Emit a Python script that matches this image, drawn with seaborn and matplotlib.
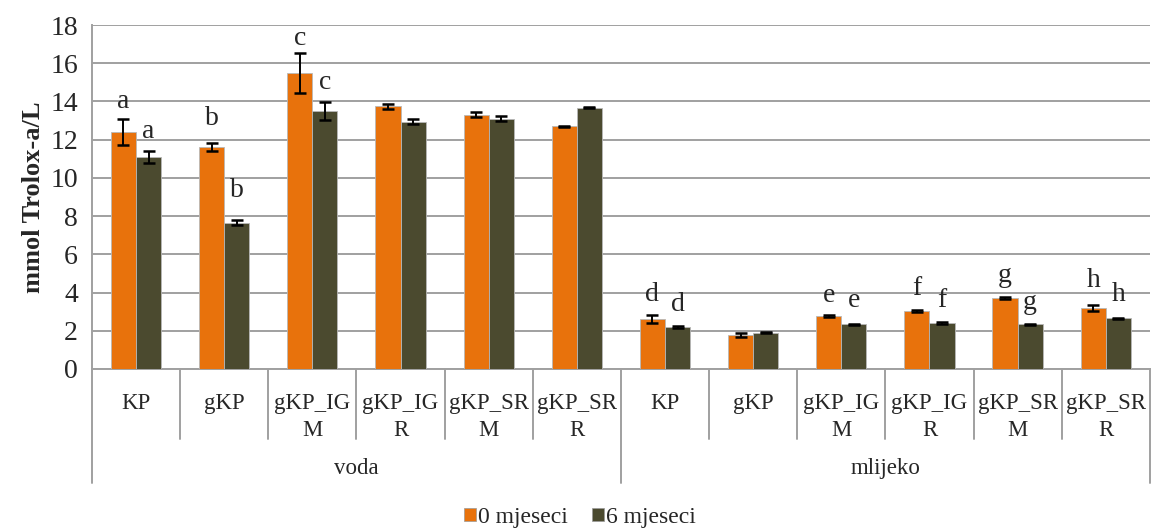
import numpy as np
import pandas as pd
import matplotlib
matplotlib.use('Agg')
import matplotlib.pyplot as plt
import seaborn as sns

groups = ['voda', 'mlijeko']
samples = ['KP', 'gKP', 'gKP_IG\nM', 'gKP_IG\nR', 'gKP_SR\nM', 'gKP_SR\nR']
times = ['0 mjeseci', '6 mjeseci']

# values, voda first then mlijeko
val_0 = [12.4, 11.6, 15.5, 13.75, 13.3, 12.7, 2.6, 1.76, 2.77, 3.04, 3.73, 3.18]
val_6 = [11.1, 7.65, 13.5, 12.95, 13.1, 13.68, 2.2, 1.9, 2.33, 2.4, 2.35, 2.65]
err_0 = [0.7, 0.2, 1.05, 0.14, 0.14, 0.04, 0.2, 0.1, 0.03, 0.04, 0.05, 0.17]
err_6 = [0.3, 0.13, 0.45, 0.12, 0.12, 0.04, 0.07, 0.03, 0.05, 0.07, 0.03, 0.03]

# significance letters and the height they sit at (None = no letter)
let_0 = ['a', 'b', 'c', None, None, None, 'd', None, 'e', 'f', 'g', 'h']
let_6 = ['a', 'b', 'c', None, None, None, 'd', None, 'e', 'f', 'g', 'h']
let_y0 = [14.0, 13.1, 17.3, 0, 0, 0, 3.9, 0, 3.85, 4.2, 4.9, 4.65]
let_y6 = [12.45, 9.35, 15.0, 0, 0, 0, 3.35, 0, 3.6, 3.6, 3.5, 3.9]

colors = ['#E8720C', '#4B4A2F']

keys = [f'{g}|{s}' for g in groups for s in samples]
df = pd.DataFrame({
    'key': keys * 2,
    'time': [times[0]] * 12 + [times[1]] * 12,
    'value': val_0 + val_6,
})

sns.set_style('white')
plt.rcParams['font.family'] = ['Liberation Serif', 'DejaVu Serif']

fig = plt.figure(figsize=(11.51, 5.32), dpi=100)
ax = fig.add_axes([0.0799, 0.3064, 0.9191, 0.6466])

sns.barplot(data=df, x='key', y='value', hue='time', order=keys, hue_order=times,
            palette=colors, width=0.57, errorbar=None, saturation=1,
            edgecolor='#b8b8b8', linewidth=0.6, ax=ax, zorder=3)

# error bars and letters on top of each bar
grid_gray = '#a0a0a0'
for i, (vals, errs, lets, ly) in enumerate([(val_0, err_0, let_0, let_y0),
                                            (val_6, err_6, let_6, let_y6)]):
    cont = ax.containers[i]
    xs = [p.get_x() + p.get_width() / 2 for p in cont]
    ax.errorbar(xs, vals, yerr=errs, fmt='none', ecolor='black',
                elinewidth=1.4, capsize=4.5, capthick=1.8, zorder=4)
    for x, l, y in zip(xs, lets, ly):
        if l:
            ax.text(x, y, l, ha='center', va='center', fontsize=20, zorder=5)

ax.set_ylim(0, 18)
ax.set_xlim(-0.5, 11.5)
ax.set_yticks(range(0, 19, 2))
ax.yaxis.grid(True, color=grid_gray, linewidth=1.4)
ax.set_axisbelow(True)
ax.tick_params(axis='y', length=7, width=1.4, color=grid_gray, labelsize=20, pad=3)
ax.tick_params(axis='x', length=0, labelsize=16.5, pad=17)
ax.set_xticks(range(12))
ax.set_xticklabels(samples * 2, linespacing=1.4)
for lbl in ax.get_xticklabels():
    lbl.set_verticalalignment('top')
ax.set_xlabel('')
ax.set_ylabel('mmol Trolox-a/L', fontsize=19, fontweight='bold', labelpad=4)

for side in ['top', 'right']:
    ax.spines[side].set_visible(False)
for side in ['left', 'bottom']:
    ax.spines[side].set_color(grid_gray)
    ax.spines[side].set_linewidth(1.4)

# hierarchical category axis: separators and group names
trans = ax.get_xaxis_transform()
for k in range(13):
    x = k - 0.5
    bottom = -0.331 if k in (0, 6, 12) else -0.2035
    ax.plot([x, x], [0, bottom], color=grid_gray, lw=1.4, transform=trans, clip_on=False)
for gi, g in enumerate(groups):
    ax.text(gi * 6 + 2.5, -0.29, g, transform=trans, ha='center', va='center', fontsize=16.5)

ax.legend_.remove()
handles = [plt.Rectangle((0, 0), 1, 1, facecolor=c, edgecolor='#999999', lw=0.5) for c in colors]
fig.legend(handles, times, loc='center', bbox_to_anchor=(0.504, 0.027), ncol=2, frameon=False,
           fontsize=17, handlelength=0.5, handleheight=0.5, handletextpad=0.1, columnspacing=1.0)

fig.savefig('out.png', dpi=100)
